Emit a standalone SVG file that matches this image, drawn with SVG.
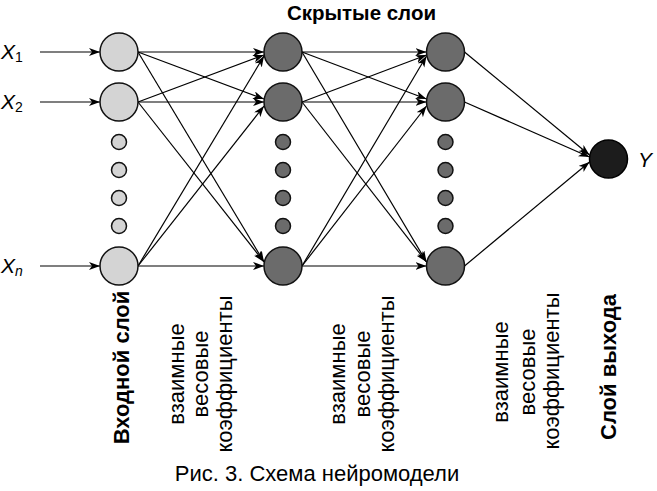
<svg xmlns="http://www.w3.org/2000/svg" width="657" height="491" viewBox="0 0 657 491">
<defs>
<marker id="ah" markerUnits="userSpaceOnUse" markerWidth="12" markerHeight="9" refX="11" refY="4" orient="auto">
<path d="M0,0 L11,4 L0,8 L3,4 z" fill="#000"/>
</marker>
<style>
.c{stroke:#000;stroke-width:1.2;fill:none;marker-end:url(#ah)}
.in{fill:#d4d4d4;stroke:#111;stroke-width:1.5}
.hd{fill:#6b6b6b;stroke:#111;stroke-width:1.5}
.out{fill:#1c1c1c;stroke:#000;stroke-width:1.5}
.t{font-family:"Liberation Sans",Arial,sans-serif;fill:#000}
.b{font-weight:bold}
.x{font-family:"Liberation Sans",Arial,sans-serif;font-style:italic;font-size:21px}
</style>
</defs>
<rect width="657" height="491" fill="#fff"/>
<g id="connectors">
<line class="c" x1="40" y1="52" x2="100" y2="52"/>
<line class="c" x1="40" y1="102" x2="100" y2="102"/>
<line class="c" x1="40" y1="266" x2="100" y2="266"/>
<line class="c" x1="138" y1="52" x2="264" y2="52"/>
<line class="c" x1="138" y1="52" x2="264" y2="99"/>
<line class="c" x1="138" y1="52" x2="264" y2="262"/>
<line class="c" x1="138" y1="102" x2="264" y2="55"/>
<line class="c" x1="138" y1="102" x2="264" y2="102"/>
<line class="c" x1="138" y1="102" x2="264" y2="262"/>
<line class="c" x1="138" y1="266" x2="264" y2="56"/>
<line class="c" x1="138" y1="266" x2="264" y2="106"/>
<line class="c" x1="138" y1="266" x2="264" y2="266"/>
<line class="c" x1="302" y1="52" x2="426.5" y2="52"/>
<line class="c" x1="302" y1="52" x2="426.5" y2="99"/>
<line class="c" x1="302" y1="52" x2="426.5" y2="262"/>
<line class="c" x1="302" y1="102" x2="426.5" y2="55"/>
<line class="c" x1="302" y1="102" x2="426.5" y2="102"/>
<line class="c" x1="302" y1="102" x2="426.5" y2="262"/>
<line class="c" x1="302" y1="266" x2="426.5" y2="56"/>
<line class="c" x1="302" y1="266" x2="426.5" y2="106"/>
<line class="c" x1="302" y1="266" x2="426.5" y2="266"/>
<line class="c" x1="464.5" y1="52" x2="589.5" y2="155"/>
<line class="c" x1="464.5" y1="102" x2="589.5" y2="157"/>
<line class="c" x1="464.5" y1="266" x2="589.5" y2="162"/>
</g>
<g id="input-layer">
<circle class="in" cx="119" cy="52" r="19"/>
<circle class="in" cx="119" cy="102" r="19"/>
<circle class="in" cx="119" cy="142" r="7.5"/>
<circle class="in" cx="119" cy="170" r="7.5"/>
<circle class="in" cx="119" cy="198" r="7.5"/>
<circle class="in" cx="119" cy="226" r="7.5"/>
<circle class="in" cx="119" cy="266" r="19"/>
</g>
<g id="hidden-layer-1">
<circle class="hd" cx="283" cy="52" r="19"/>
<circle class="hd" cx="283" cy="102" r="19"/>
<circle class="hd" cx="283" cy="142" r="7.5"/>
<circle class="hd" cx="283" cy="170" r="7.5"/>
<circle class="hd" cx="283" cy="198" r="7.5"/>
<circle class="hd" cx="283" cy="226" r="7.5"/>
<circle class="hd" cx="283" cy="266" r="19"/>
</g>
<g id="hidden-layer-2">
<circle class="hd" cx="445.5" cy="52" r="19"/>
<circle class="hd" cx="445.5" cy="102" r="19"/>
<circle class="hd" cx="445.5" cy="142" r="7.5"/>
<circle class="hd" cx="445.5" cy="170" r="7.5"/>
<circle class="hd" cx="445.5" cy="198" r="7.5"/>
<circle class="hd" cx="445.5" cy="226" r="7.5"/>
<circle class="hd" cx="445.5" cy="266" r="19"/>
</g>
<g id="output-layer">
<circle class="out" cx="608.5" cy="159" r="19"/>
</g>
<g id="labels">
<text class="x" x="1" y="59">X<tspan font-size="14" font-style="normal" dy="3">1</tspan></text>
<text class="x" x="1" y="109">X<tspan font-size="14" font-style="normal" dy="3">2</tspan></text>
<text class="x" x="1" y="273">X<tspan font-size="14" dy="3">n</tspan></text>
<text class="x" x="638" y="167">Y</text>
<text class="t b" x="361.5" y="20" font-size="20.5" text-anchor="middle">Скрытые слои</text>
<text class="t b" font-size="22" text-anchor="middle" transform="translate(129,367.5) rotate(-90)">Входной слой</text>
<text class="t b" font-size="22" text-anchor="middle" transform="translate(616,367) rotate(-90)">Слой выхода</text>
<g font-size="22" text-anchor="middle" class="t">
<text transform="translate(183.5,374) rotate(-90)">взаимные</text>
<text transform="translate(207.5,374) rotate(-90)">весовые</text>
<text transform="translate(232,374) rotate(-90)">коэффициенты</text>
<text transform="translate(345,374) rotate(-90)">взаимные</text>
<text transform="translate(370,374) rotate(-90)">весовые</text>
<text transform="translate(394,374) rotate(-90)">коэффициенты</text>
<text transform="translate(508,372) rotate(-90)">взаимные</text>
<text transform="translate(535,372) rotate(-90)">весовые</text>
<text transform="translate(559,371) rotate(-90)">коэффициенты</text>
</g>
<text class="t" x="317" y="481" font-size="22" text-anchor="middle">Рис. 3. Схема нейромодели</text>
</g>
</svg>
